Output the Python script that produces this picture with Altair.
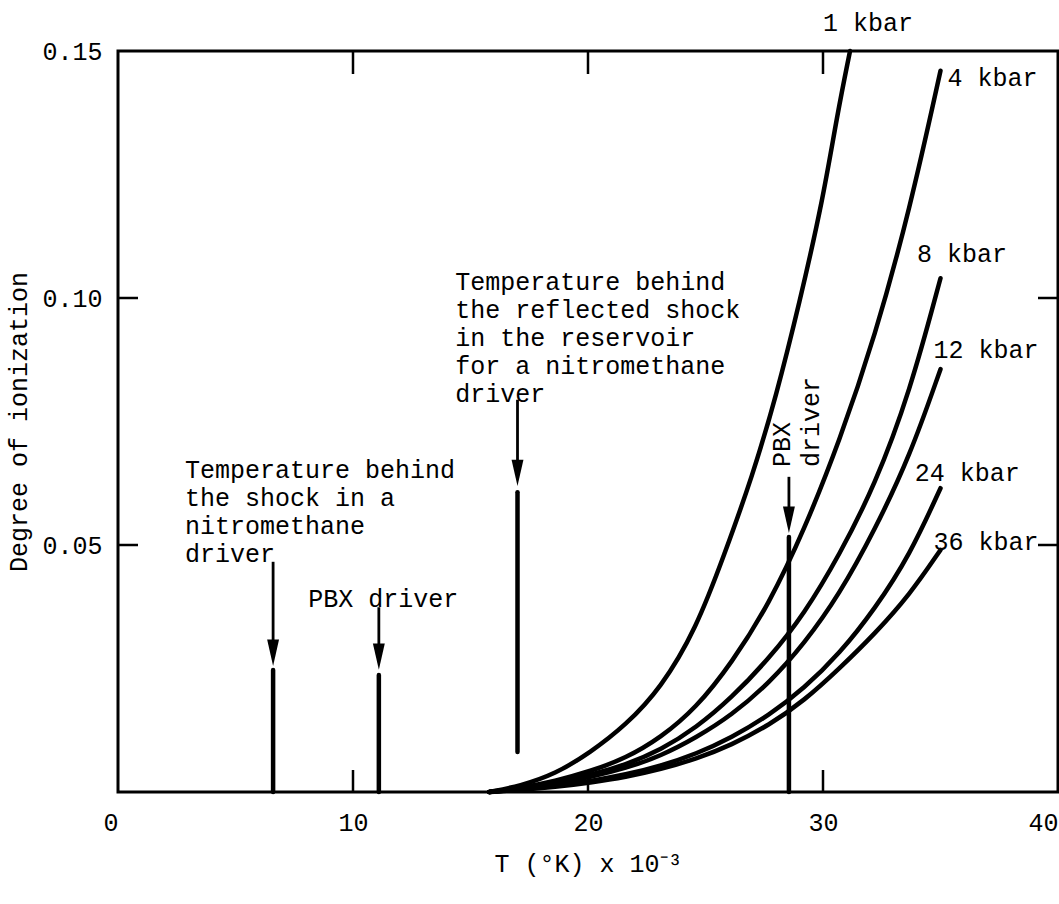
import altair as alt
import pandas as pd

FONT = "Liberation Mono"
FS = 25

# ---- curves: degree of ionization vs T (x 10^-3 K) ----
x_1kbar = [15.8, 17.1, 18.6, 20.1, 21.6, 23.1, 24.6, 25.8, 27.0, 28.0, 29.0, 30.0, 30.6, 31.15]
y_1kbar = [0, 0.0012, 0.0036, 0.008, 0.0135, 0.021, 0.033, 0.048, 0.064, 0.080, 0.099, 0.12, 0.137, 0.15]

x_common = [15.8, 17.1, 18.6, 20.1, 21.6, 23.1, 24.6, 26.1, 27.7, 29.2, 30.7, 32.2, 33.7, 35.0]
y_4kbar = [0, 0.0008, 0.0022, 0.0042, 0.0068, 0.011, 0.017, 0.026, 0.038, 0.053, 0.071, 0.092, 0.118, 0.146]
y_8kbar = [0, 0.0007, 0.0018, 0.0034, 0.0055, 0.0085, 0.013, 0.019, 0.027, 0.036, 0.048, 0.062, 0.081, 0.104]
y_12kbar = [0, 0.0006, 0.0016, 0.003, 0.0048, 0.0073, 0.011, 0.0155, 0.022, 0.030, 0.040, 0.053, 0.068, 0.0856]
y_24kbar = [0, 0.0005, 0.0012, 0.0022, 0.0035, 0.0053, 0.0077, 0.011, 0.0155, 0.021, 0.028, 0.037, 0.048, 0.0615]
y_36kbar = [0, 0.0004, 0.001, 0.0019, 0.003, 0.0046, 0.0067, 0.0095, 0.0135, 0.0185, 0.025, 0.032, 0.040, 0.049]

# curve labels
curve_names = ["1 kbar", "4 kbar", "8 kbar", "12 kbar", "24 kbar", "36 kbar"]
label_x = [30.0, 35.3, 34.0, 34.7, 33.9, 34.7]
label_y = [0.1557, 0.1445, 0.109, 0.0895, 0.0646, 0.0506]

# arrows (vertical markers)
arrow_x = [6.6, 11.1, 17.0, 28.55]
shaft_top = [0.0466, 0.0374, 0.0794, 0.0638]
head_mid = [0.0282, 0.0274, 0.0646, 0.0551]
bar_top = [0.0247, 0.0237, 0.0607, 0.0516]
bar_bottom = [0, 0, 0.0081, 0]

# annotation texts
note_text = [
    "Temperature behind\nthe shock in a\nnitromethane\ndriver",
    "PBX driver",
    "Temperature behind\nthe reflected shock\nin the reservoir\nfor a nitromethane\ndriver",
]
note_x = [2.85, 8.1, 14.35]
note_y = [0.0676, 0.0415, 0.1057]

rot_text = ["PBX\ndriver"]
rot_x = [27.75]
rot_y = [0.0658]

# axis ticks
x_ticks = [0, 10, 20, 30, 40]
y_ticks = [0.05, 0.10, 0.15]
frame_x_ticks = [10, 20, 30]
frame_y_ticks = [0.05, 0.10]

# ---- build tables ----
rows = []
for xv, yv in zip(x_1kbar, y_1kbar):
    rows.append({"series": "1 kbar", "T": xv, "ion": yv})
for name, ys in zip(curve_names[1:], [y_4kbar, y_8kbar, y_12kbar, y_24kbar, y_36kbar]):
    for xv, yv in zip(x_common, ys):
        rows.append({"series": name, "T": xv, "ion": yv})
curves_df = pd.DataFrame(rows)

labels_df = pd.DataFrame({"text": curve_names, "T": label_x, "ion": label_y})
arrows_df = pd.DataFrame({"T": arrow_x, "ion": shaft_top, "head": head_mid,
                          "btop": bar_top, "bbot": bar_bottom})
notes_df = pd.DataFrame({"text": note_text, "T": note_x, "ion": note_y})
rot_df = pd.DataFrame({"text": rot_text, "T": rot_x, "ion": rot_y})
fx_df = pd.DataFrame({"T": frame_x_ticks})
fy_df = pd.DataFrame({"ion": frame_y_ticks})

xscale = alt.Scale(domain=[0, 40], nice=False)
yscale = alt.Scale(domain=[0, 0.15], nice=False)

x_axis = alt.Axis(
    values=x_ticks, title="T (°K) x 10⁻³", grid=False, domain=False, ticks=False,
    labelFont=FONT, labelFontSize=FS, labelColor="black", labelPadding=18,
    labelAlign={"expr": "datum.value == 0 ? 'right' : (datum.value == 40 ? 'right' : 'center')"},
    titleFont=FONT, titleFontSize=FS, titleFontWeight="normal", titleColor="black",
    titlePadding=16,
)
y_axis = alt.Axis(
    values=y_ticks, format=".2f", title="Degree of ionization", grid=False,
    domain=False, ticks=False, labelFont=FONT, labelFontSize=FS, labelColor="black",
    labelPadding=16, titleFont=FONT, titleFontSize=FS, titleFontWeight="normal",
    titleColor="black", titlePadding=10,
)

X = alt.X("T:Q", scale=xscale, axis=x_axis)
Y = alt.Y("ion:Q", scale=yscale, axis=y_axis)

curves = alt.Chart(curves_df).mark_line(
    color="black", strokeWidth=4.5, interpolate="basis", strokeCap="round"
).encode(x=X, y=Y, detail="series:N")

curve_labels = alt.Chart(labels_df).mark_text(
    font=FONT, fontSize=FS, align="left", baseline="middle", color="black"
).encode(x=X, y=Y, text="text:N")

shafts = alt.Chart(arrows_df).mark_rule(color="black", strokeWidth=2.8).encode(
    x=X, y=Y, y2="head:Q")
bars = alt.Chart(arrows_df).mark_rule(color="black", strokeWidth=4.5, strokeCap="round").encode(
    x=X, y=alt.Y("btop:Q", scale=yscale, axis=y_axis), y2="bbot:Q")
heads = alt.Chart(arrows_df).mark_point(
    shape="M -0.45 -1 L 0.45 -1 L 0 1 Z", filled=True, color="black", opacity=1, size=700
).encode(x=X, y=alt.Y("head:Q", scale=yscale, axis=y_axis))

notes = alt.Chart(notes_df).mark_text(
    font=FONT, fontSize=FS, align="left", baseline="top", lineBreak="\n",
    lineHeight=28, color="black"
).encode(x=X, y=Y, text="text:N")

rot_notes = alt.Chart(rot_df).mark_text(
    font=FONT, fontSize=FS, align="left", baseline="top", lineBreak="\n",
    lineHeight=29, angle=270, color="black"
).encode(x=X, y=Y, text="text:N")

top_ticks = alt.Chart(fx_df).mark_rule(color="black", strokeWidth=2.5).encode(
    x=X, y=alt.value(0), y2=alt.value(23))
bottom_ticks = alt.Chart(fx_df).mark_rule(color="black", strokeWidth=2.5).encode(
    x=X, y=alt.value(741), y2=alt.value(719))
left_ticks = alt.Chart(fy_df).mark_rule(color="black", strokeWidth=2.5).encode(
    y=Y, x=alt.value(0), x2=alt.value(20))
right_ticks = alt.Chart(fy_df).mark_rule(color="black", strokeWidth=2.5).encode(
    y=Y, x=alt.value(940), x2=alt.value(920))

chart = alt.layer(
    curves, curve_labels, shafts, bars, heads, notes, rot_notes,
    top_ticks, bottom_ticks, left_ticks, right_ticks,
).properties(
    width=940, height=741,
    padding={"left": 118, "top": 51, "right": 1, "bottom": 112},
    autosize="none",
    background="white",
).configure_view(
    stroke="black", strokeWidth=3
)

chart.save("out.html", embed_options={"renderer": "svg", "actions": False})
